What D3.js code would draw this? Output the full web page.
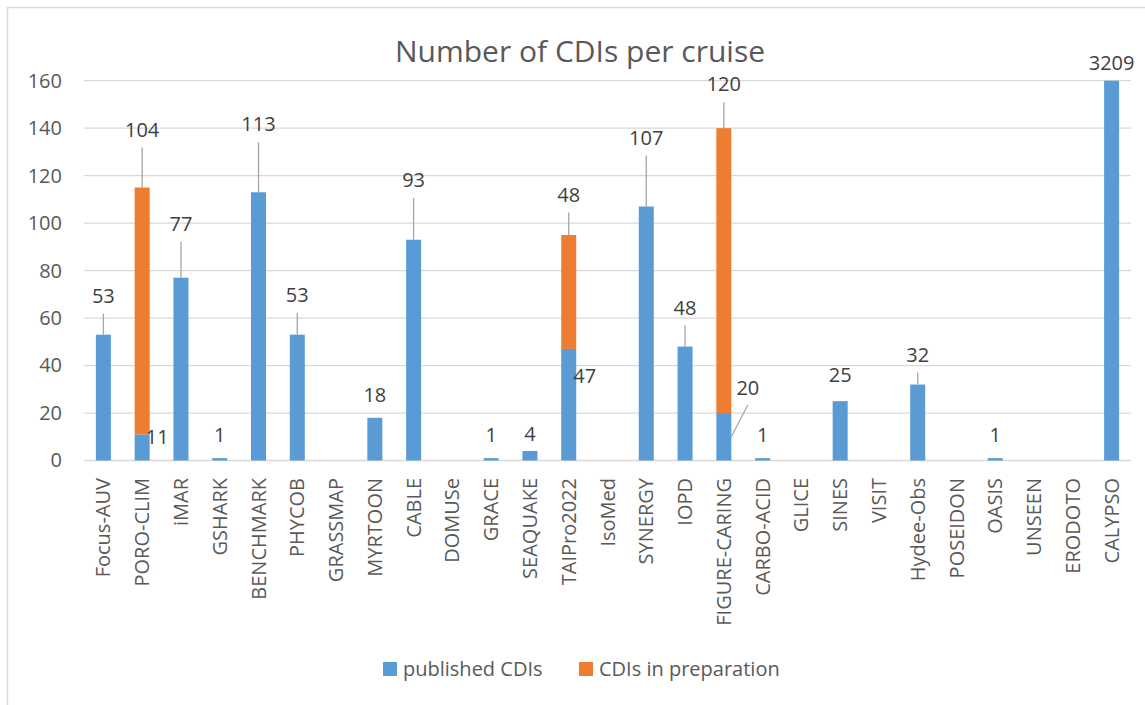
<!DOCTYPE html>
<html>
<head>
<meta charset="utf-8">
<script src="https://cdn.jsdelivr.net/npm/d3@7"></script>
<style>
  html, body { margin: 0; padding: 0; background: #fff; }
  svg { display: block; font-family: "Open Sans", "Noto Sans", sans-serif; }
</style>
</head>
<body>
<svg id="chart" width="1145" height="705"></svg>
<script>
// ---- data ----
const categories = ["Focus-AUV","PORO-CLIM","iMAR","GSHARK","BENCHMARK","PHYCOB","GRASSMAP","MYRTOON","CABLE","DOMUSe","GRACE","SEAQUAKE","TAIPro2022","IsoMed","SYNERGY","IOPD","FIGURE-CARING","CARBO-ACID","GLICE","SINES","VISIT","Hydee-Obs","POSEIDON","OASIS","UNSEEN","ERODOTO","CALYPSO"];
const publishedCDIs   = [53,11,77,1,113,53,0,18,93,0,1,4,47,0,107,48,20,1,0,25,0,32,0,1,0,0,3209];
const preparationCDIs = [0,104,0,0,0,0,0,0,0,0,0,0,48,0,0,0,120,0,0,0,0,0,0,0,0,0,0];
const yTicks = [0,20,40,60,80,100,120,140,160];
const yMax = 160;
const seriesNames = ["published CDIs","CDIs in preparation"];
const title = "Number of CDIs per cruise";

// ---- label layout (pixel nudges, as placed in the original) ----
const pubLabelDx = [0,15,0,0,0,0,0,0,0,0,0,0,16,0,0,0,24,0,0,0,0,0,0,0,0,0,0];
const pubLabelDy = [-39,2,-54,-23,-68,-40,0,-23,-60,0,-23,-17,26.5,0,-69,-39,-25.5,-23,0,-26,0,-30,0,-23,0,0,-18];
const pubLeader  = [1,0,1,0,1,1,0,0,1,0,0,0,0,0,1,1,1,0,0,0,0,1,0,0,0,0,0];
const prepLabelDy = [0,-58,0,0,0,0,0,0,0,0,0,0,-40.5,0,0,0,-44,0,0,0,0,0,0,0,0,0,0];
const prepLeader  = [0,1,0,0,0,0,0,0,0,0,0,0,1,0,0,0,1,0,0,0,0,0,0,0,0,0,0];

const colors = { pub: "#5B9BD5", prep: "#ED7D31", grid: "#d9d9d9", text: "#595959", label: "#404040", leader: "#a6a6a6" };

const svg = d3.select("#chart");

// border
svg.append("rect").attr("x", 7.5).attr("y", 7.5).attr("width", 1400).attr("height", 900)
  .attr("fill", "none").attr("stroke", colors.grid).attr("stroke-width", 1.5);

const x = d3.scaleBand().domain(categories).range([84, 1131]).paddingInner(0.613).paddingOuter(0.3065);
const y = d3.scaleLinear().domain([0, yMax]).range([460.5, 80.7]).clamp(true);

// gridlines
svg.append("g").selectAll("line").data(yTicks).join("line")
  .attr("x1", 84).attr("x2", 1131)
  .attr("y1", d => y(d)).attr("y2", d => y(d))
  .attr("stroke", colors.grid).attr("stroke-width", 1.3);

// y axis labels
const yAxis = d3.axisLeft(y).tickValues(yTicks).tickSize(0).tickPadding(0);
const gy = svg.append("g").attr("transform", "translate(62,0)").call(yAxis);
gy.select(".domain").remove();
gy.selectAll("text").attr("font-size", "20px").attr("fill", colors.text)
  .attr("font-family", "'Open Sans', sans-serif");

// x axis labels
const xAxis = d3.axisBottom(x).tickSize(0).tickPadding(0);
const gx = svg.append("g").attr("transform", "translate(0,478)").call(xAxis);
gx.select(".domain").remove();
gx.selectAll("text")
  .attr("font-size", "20px").attr("fill", colors.text)
  .attr("font-family", "'Open Sans', sans-serif")
  .attr("transform", "rotate(-90)")
  .attr("text-anchor", "end")
  .attr("x", 0).attr("y", 0).attr("dy", "0.35em");

// stacked bars
const rows = categories.map((c, i) => ({ c, i, pub: publishedCDIs[i], prep: preparationCDIs[i] }));
const bw = x.bandwidth();

svg.append("g").selectAll("rect").data(rows.filter(d => d.pub > 0)).join("rect")
  .attr("x", d => x(d.c)).attr("width", bw)
  .attr("y", d => y(d.pub)).attr("height", d => y(0) - y(d.pub))
  .attr("fill", colors.pub);

svg.append("g").selectAll("rect").data(rows.filter(d => d.prep > 0)).join("rect")
  .attr("x", d => x(d.c)).attr("width", bw)
  .attr("y", d => y(d.pub + d.prep)).attr("height", d => y(d.pub) - y(d.pub + d.prep))
  .attr("fill", colors.prep);

// labels and leader lines
const lab = svg.append("g");
function addLabel(cx, top, mid, value, dx, dy, leader, barRight) {
  const lx = cx + dx, ly = top + dy;
  if (leader) {
    if (dx === 0) {
      lab.append("line").attr("x1", cx).attr("x2", cx).attr("y1", ly + 18).attr("y2", top)
        .attr("stroke", colors.leader).attr("stroke-width", 1.3);
    } else {
      lab.append("line").attr("x1", lx).attr("y1", ly + 17.5).attr("x2", barRight).attr("y2", mid)
        .attr("stroke", colors.leader).attr("stroke-width", 1.3);
    }
  }
  lab.append("text").attr("x", lx).attr("y", ly).attr("dy", "0.36em")
    .attr("text-anchor", "middle").attr("font-size", "20px").attr("fill", colors.label)
    .text(value);
}
rows.forEach(d => {
  const cx = x(d.c) + bw / 2;
  if (d.pub > 0) {
    addLabel(cx, y(d.pub), (y(d.pub) + y(0)) / 2, d.pub, pubLabelDx[d.i], pubLabelDy[d.i], pubLeader[d.i], x(d.c) + bw);
  }
  if (d.prep > 0) {
    const t = y(d.pub + d.prep);
    addLabel(cx, t, (t + y(d.pub)) / 2, d.prep, 0, prepLabelDy[d.i], prepLeader[d.i], x(d.c) + bw);
  }
});

// title
svg.append("text").attr("x", 580).attr("y", 62).attr("text-anchor", "middle")
  .attr("font-size", "30px").attr("fill", colors.text).text(title);

// legend
const legend = svg.append("g");
const legendItems = [{ name: seriesNames[0], color: colors.pub, x: 383 }, { name: seriesNames[1], color: colors.prep, x: 579 }];
legendItems.forEach(it => {
  legend.append("rect").attr("x", it.x).attr("y", 662).attr("width", 14).attr("height", 14).attr("fill", it.color);
  legend.append("text").attr("x", it.x + 20).attr("y", 669).attr("dy", "0.36em")
    .attr("font-size", "20px").attr("fill", colors.text).text(it.name);
});
</script>
</body>
</html>
